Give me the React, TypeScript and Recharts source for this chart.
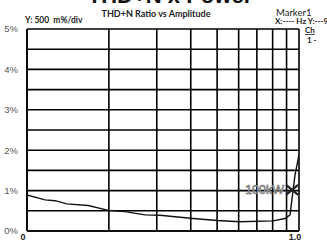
import { LineChart, Line, XAxis, YAxis, CartesianGrid, ReferenceDot } from "recharts";

// amplitude (log axis, 0.1 .. 1.0)
const amplitude = [0.1, 0.1165, 0.127, 0.14, 0.168, 0.199, 0.229, 0.272, 0.308, 0.408, 0.5, 0.607, 0.802, 0.889, 0.927, 0.948, 0.967, 1.0];
// THD+N ratio in %
const thdn = [0.89, 0.77, 0.75, 0.67, 0.63, 0.51, 0.48, 0.4, 0.39, 0.31, 0.26, 0.23, 0.25, 0.31, 0.4, 0.93, 1.39, 1.89];

const xTicks = [0.1, 0.2, 0.3, 0.4, 0.5, 0.6, 0.7, 0.8, 0.9, 1.0];
const yTicks = [0, 0.5, 1, 1.5, 2, 2.5, 3, 3.5, 4, 4.5, 5];

const marker = { x: 0.943, y: 1.02, label: "100kW" };

const data = amplitude.map((x, i) => ({ x, y: thdn[i] }));

const xLabel = (v: number) => (v === 0.1 ? "0" : v === 1 ? "1.0" : "");
const yLabel = (v: number) => (Number.isInteger(v) ? `${v}%` : "");

const XTick = (props: any) => {
  const { x, y, payload } = props;
  return (
    <text x={x - 4} y={y + 2.5} textAnchor="middle" fontSize={9} fontWeight={700} fill="#222" fontFamily="Liberation Sans, Arial, sans-serif">
      {xLabel(payload.value)}
    </text>
  );
};

// X marker with outlined label on its left
const MarkerShape = (props: any) => {
  const { cx, cy } = props;
  return (
    <g>
      <text
        x={cx - 8}
        y={cy + 4.5}
        textAnchor="end"
        fontFamily="Liberation Sans, Arial, sans-serif"
        fontSize={12.5}
        fill="#fff"
        stroke="#666"
        strokeWidth={0.7}
      >
        {marker.label}
      </text>
      <path d={`M${cx - 6},${cy - 5}L${cx + 6},${cy + 5}M${cx - 6},${cy + 5}L${cx + 6},${cy - 5}`} stroke="#222" strokeWidth={2.2} />
    </g>
  );
};

export default function App() {
  const font = "Lato, 'Open Sans', sans-serif";
  return (
    <div style={{ position: "absolute", left: 0, top: 0, width: 327, height: 241, background: "#fff", overflow: "hidden" }}>
      <LineChart width={327} height={241} data={data} margin={{ top: 29, right: 28, bottom: 0, left: 0 }}>
        <CartesianGrid stroke="#000" strokeWidth={1.6} />
        <XAxis
          dataKey="x"
          type="number"
          scale="log"
          domain={[0.1, 1]}
          ticks={xTicks}
          tickLine={false}
          axisLine={{ stroke: "#000", strokeWidth: 1.6 }}
          height={10}
          tickMargin={0}
          interval={0}
          allowDataOverflow
          tick={XTick}
        />
        <YAxis
          type="number"
          domain={[0, 5]}
          ticks={yTicks}
          tickFormatter={yLabel}
          tickLine={false}
          axisLine={{ stroke: "#000", strokeWidth: 1.6 }}
          width={27}
          tickMargin={3}
          interval={0}
          tick={{ fontSize: 9.5, fill: "#555", fontFamily: "Liberation Sans, Arial, sans-serif" }}
        />
        <Line dataKey="y" type="linear" stroke="#111" strokeWidth={1.4} dot={false} isAnimationActive={false} />
        <ReferenceDot x={marker.x} y={marker.y} shape={MarkerShape} />
      </LineChart>
      <svg width={327} height={241} style={{ position: "absolute", left: 0, top: 0, pointerEvents: "none" }}>
        <text x={170} y={3} textAnchor="middle" fontFamily="Liberation Sans, Arial, sans-serif" fontWeight={700} fontSize={22} fill="#111">
          THD+N x Power
        </text>
        <text x={156} y={17} textAnchor="middle" fontFamily={font} fontWeight={700} fontSize={9} fill="#222">
          THD+N Ratio vs Amplitude
        </text>
        <text x={25} y={23} fontFamily={font} fontWeight={700} fontSize={8.5} fill="#222" xmlSpace="preserve">
          Y: 500  m%/div
        </text>
        <text x={276} y={15.5} fontFamily={font} fontSize={9.5} fill="#222">
          Marker1
        </text>
        <text x={275} y={24} fontFamily={font} fontWeight={700} fontSize={8} fill="#222">
          X:---- Hz Y:---9
        </text>
        <text x={305} y={33} fontFamily={font} fontWeight={700} fontSize={8} fill="#222" textDecoration="underline">
          Ch
        </text>
        <text x={307} y={42.5} fontFamily={font} fontWeight={700} fontSize={8} fill="#222">
          1 -
        </text>
      </svg>
    </div>
  );
}
